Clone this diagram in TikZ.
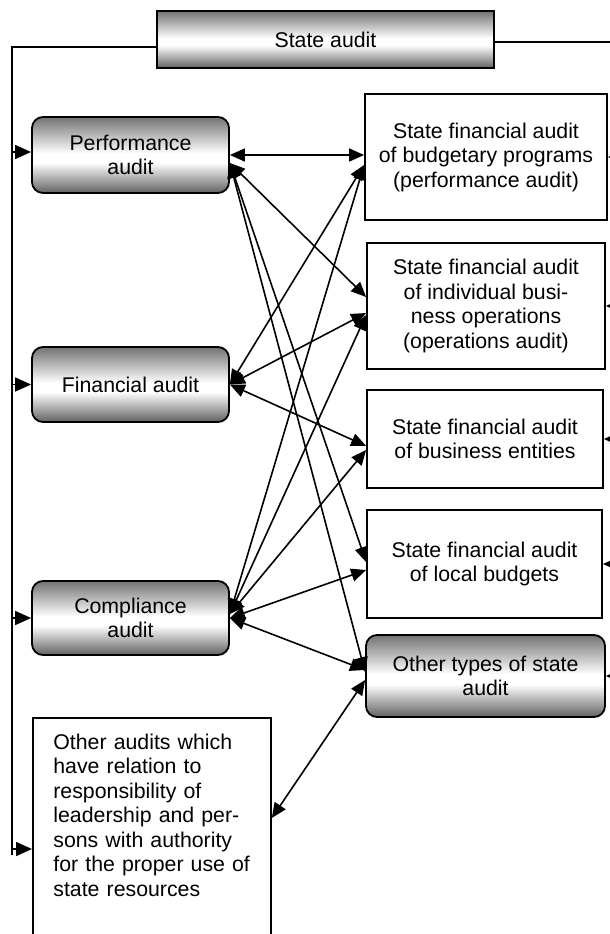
\documentclass[tikz,border=0pt]{standalone}
\usepackage{fontspec}
\setmainfont{Liberation Sans}
\usetikzlibrary{arrows.meta}
\pgfdeclareverticalshading{boxshade}{100bp}{color(0bp)=(black!62); color(25bp)=(black!62); color(45bp)=(white); color(51bp)=(white); color(75bp)=(black!55); color(100bp)=(black!55)}
\begin{document}
\begin{tikzpicture}[x=1pt,y=-1pt,
  font=\fontsize{21.3}{24.5}\selectfont,
  shadebox/.style={draw, line width=1.8pt, shade, shading=boxshade, align=center, inner sep=0pt},
  plainbox/.style={draw, line width=1.8pt, fill=white, align=center, inner sep=0pt},
  conn/.style={line width=1.6pt, {Triangle[length=15pt,width=13pt]}-{Triangle[length=15pt,width=13pt]}},
  feed/.style={line width=1.6pt, -{Triangle[length=16pt,width=14pt]}},
  trunk/.style={line width=1.6pt}]
\useasboundingbox (0,0) rectangle (610,934);
\clip (0,0) rectangle (610,934);

% top
\node[shadebox, minimum width=337pt, minimum height=57pt] (sa) at (325.5,39.5) {State audit};

% left column
\node[shadebox, rounded corners=11pt, minimum width=197pt, minimum height=76pt] (perf) at (130.5,155) {Performance\\audit};
\node[shadebox, rounded corners=11pt, minimum width=197pt, minimum height=75pt] (fin) at (130.5,384.5) {Financial audit};
\node[shadebox, rounded corners=11pt, minimum width=197pt, minimum height=74pt] (comp) at (130.5,618) {Compliance\\audit};
\node[plainbox, anchor=north west, text width=197pt, inner xsep=20.5pt, inner ysep=16pt, align=left] (other) at (32,717)
  {Other audits which\\have relation to\\responsibility of\\leadership and per-\\sons with authority\\for the proper use of\\state resources\\[30pt]\strut};

% right column
\node[plainbox, minimum width=242pt, minimum height=126pt] (box1) at (486,157) {State financial audit\\of budgetary programs\\(performance audit)};
\node[plainbox, minimum width=238pt, minimum height=126pt] (box2) at (486,306) {State financial audit\\of individual busi-\\ness operations\\(operations audit)};
\node[plainbox, minimum width=236pt, minimum height=98pt] (box3) at (485,439) {State financial audit\\of business entities};
\node[plainbox, minimum width=235pt, minimum height=108pt] (box4) at (484.5,564) {State financial audit\\of local budgets};
\node[shadebox, rounded corners=11pt, minimum width=239pt, minimum height=82pt] (box5) at (485.5,676) {Other types of state\\audit};

% trunks
\coordinate (Lend) at (12,855);
\coordinate (Rend) at (616,700);
\coordinate (perfIn) at ([yshift=3pt]perf.west);
\coordinate (otherIn) at ([yshift=-132pt]other.north west);
\draw[trunk] ([yshift=-7.5pt]sa.west) -| (Lend);
\draw[trunk] ([yshift=-2.5pt]sa.east) -| (Rend);

\draw[feed] (Lend |- perfIn) -- (perfIn);
\draw[feed] (Lend |- fin.west) -- (fin.west);
\draw[feed] (Lend |- comp.west) -- (comp.west);
\draw[feed] (Lend |- otherIn) -- (otherIn);

\draw[feed] (Rend |- box1.east) -- (box1.east);
\draw[feed] (Rend |- box2.east) -- (box2.east);
\draw[feed] (Rend |- box3.east) -- (box3.east);
\draw[feed] (Rend |- box4.east) -- (box4.east);
\draw[feed] (Rend |- box5.east) -- (box5.east);

% connectors
\draw[conn] (perf.east) -- (perf.east -| box1.west);
\draw[conn] ([yshift=-8pt]perf.east) -- ([yshift=9pt]box2.west);
\draw[conn] ([yshift=-8pt]perf.east) -- ([yshift=2pt]box4.west);
\draw[conn] ([yshift=-8pt]perf.east) -- ([yshift=4pt]box5.west);

\draw[conn] (fin.east) -- ([yshift=-8pt]box1.west);
\draw[conn] (fin.east) -- ([yshift=-7pt]box2.west);
\draw[conn] (fin.east) -- ([yshift=-7pt]box3.west);

\draw[conn] ([yshift=4pt]comp.east) -- ([yshift=-8pt]box1.west);
\draw[conn] ([yshift=4pt]comp.east) -- ([yshift=-9pt]box2.west);
\draw[conn] ([yshift=4pt]comp.east) -- ([yshift=-11pt]box3.west);
\draw[conn] (comp.east) -- ([yshift=-6pt]box4.west);
\draw[conn] (comp.east) -- ([yshift=6pt]box5.west);

\draw[conn] ([yshift=-101pt]other.north east) -- ([yshift=-4pt]box5.west);
\end{tikzpicture}
\end{document}
